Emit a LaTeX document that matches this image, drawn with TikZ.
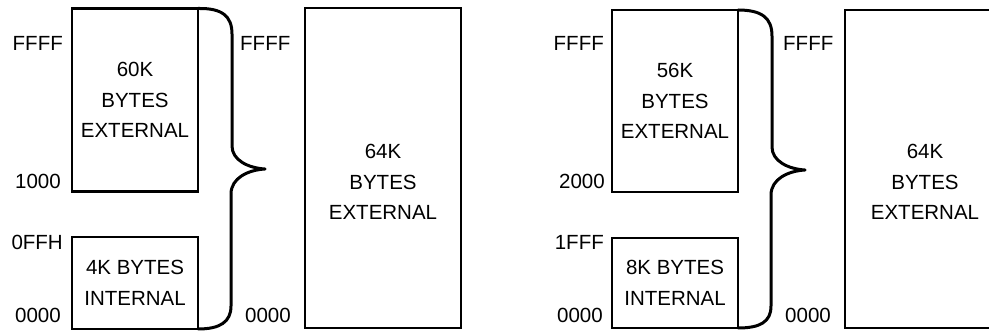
\documentclass[tikz,border=0pt]{standalone}
\usepackage{fontspec}
\setmainfont{Liberation Sans}
\usepackage{tikz}
\usetikzlibrary{positioning}

\begin{document}
\begin{tikzpicture}[
  x=1pt, y=-1pt,
  every node/.style={font=\fontsize{20.5}{30.5}\selectfont},
  mem/.style={draw, line width=2.4pt, align=center, inner sep=0pt,
    outer sep=0pt, minimum width=126pt},
  bigmem/.style={draw, line width=2.4pt, inner sep=0pt, outer sep=0pt},
  memtext/.style={align=center, inner sep=0pt},
  addr/.style={inner sep=0pt},
  brace/.style={line width=3pt, line join=round, line cap=round},
]
\useasboundingbox (0,0) rectangle (989,331);
\clip (0,0) rectangle (989,331);

% left map: 4K internal
\node[mem, minimum height=183pt] at (135,100) (ext60) {60K\\BYTES\\EXTERNAL};
\node[mem, minimum height=92pt]  at (135,283) (int4)  {4K BYTES\\INTERNAL};
\node[bigmem, minimum width=156pt, minimum height=320pt] at (383,168) (big64a) {};
\node[memtext] at (383,182) (big64atext) {64K\\BYTES\\EXTERNAL};

\node[addr, anchor=east] at (63,43)  (ffffa)  {FFFF};
\node[addr, anchor=east] at (61,181) (k1000)  {1000};
\node[addr, anchor=east] at (63,242) (offh)   {0FFH};
\node[addr, anchor=east] at (61,315) (zeroa)  {0000};
\node[addr, anchor=west] at (240,43) (ffffb)  {FFFF};
\node[addr, anchor=west] at (245,315) (zerob) {0000};

\coordinate (tipa) at (265,169);
\draw[brace] (ext60.north east) .. controls (222,8) and (232,16) .. (232,34)
  -- (232,146) .. controls (232,160) and (248,168) .. (tipa)
  .. controls (248,170) and (231,178) .. (231,194)
  -- (231,306) .. controls (231,322) and (220,329) .. (int4.south east);

% right map: 8K internal
\node[mem, minimum height=182pt] at (675,101) (ext56) {56K\\BYTES\\EXTERNAL};
\node[mem, minimum height=90pt]  at (675,283) (int8)  {8K BYTES\\INTERNAL};
\node[bigmem, minimum width=160pt, minimum height=318pt] at (925,169) (big64b) {};
\node[memtext] at (925,182) (big64btext) {64K\\BYTES\\EXTERNAL};

\node[addr, anchor=east] at (604,43)  (ffffc)  {FFFF};
\node[addr, anchor=east] at (605,181) (k2000)  {2000};
\node[addr, anchor=east] at (604,242) (k1fff)  {1FFF};
\node[addr, anchor=east] at (603,315) (zeroc)  {0000};
\node[addr, anchor=west] at (783,43)  (ffffd)  {FFFF};
\node[addr, anchor=west] at (785,315) (zerod)  {0000};

\coordinate (tipb) at (805,170);
\draw[brace] (ext56.north east) .. controls (762,10) and (772,18) .. (772,36)
  -- (772,147) .. controls (772,161) and (788,169) .. (tipb)
  .. controls (788,171) and (771,179) .. (771,195)
  -- (771,306) .. controls (771,322) and (760,328) .. (int8.south east);
\end{tikzpicture}
\end{document}
